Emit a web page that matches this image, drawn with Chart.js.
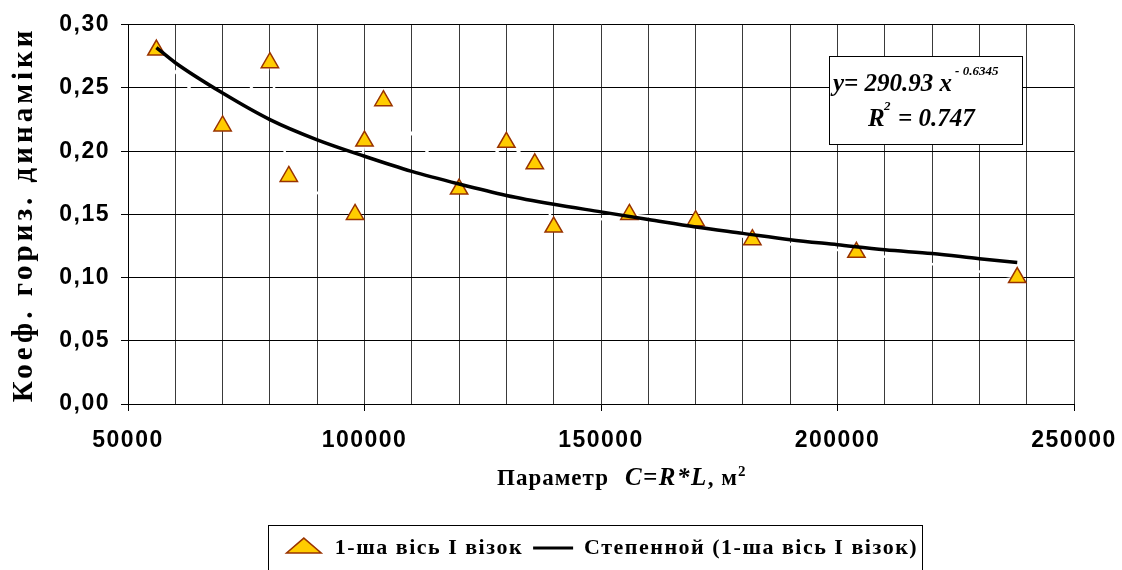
<!DOCTYPE html>
<html>
<head>
<meta charset="utf-8">
<script src="https://cdn.jsdelivr.net/npm/chart.js@4/dist/chart.umd.min.js"></script>
<style>
  html, body { margin: 0; padding: 0; background: #fff; }
  canvas { display: block; }
</style>
</head>
<body>
<canvas id="chart" width="1122" height="570"></canvas>
<script>
// measured points, C = R*L (m2) against the coefficient
var paramC = [56000, 70000, 80000, 84000, 98000, 100000, 104000, 120000, 130000, 136000, 140000, 156000, 170000, 182000, 204000, 238000];
var koef = [0.28, 0.22, 0.27, 0.18, 0.15, 0.208, 0.24, 0.17, 0.207, 0.19, 0.14, 0.15, 0.145, 0.13, 0.12, 0.10];
// power trendline
var trendC = [56000, 60000, 70000, 80000, 90000, 100000, 110000, 120000, 130000, 140000, 150000, 160000, 170000, 180000, 190000, 200000, 210000, 220000, 230000, 238000];
var trendK = [0.282, 0.270, 0.246, 0.225, 0.209, 0.196, 0.184, 0.174, 0.165, 0.158, 0.152, 0.146, 0.140, 0.135, 0.130, 0.126, 0.122, 0.119, 0.115, 0.112];
var yTicks = [0, 0.05, 0.1, 0.15, 0.2, 0.25, 0.3];
var xTickLabels = [50000, 100000, 150000, 200000, 250000];
var seriesNames = ["1-ша вісь І візок", "Степенной (1-ша вісь І візок)"];

var SANS = '"Liberation Sans", Arial, sans-serif';
var SERIF = '"Liberation Serif", "Times New Roman", serif';

function toPoints(xs, ys) {
  return xs.map(function (x, i) { return { x: x, y: ys[i] }; });
}

// titles, equation box and legend frame
var decor = {
  id: "decor",
  beforeLayout: function (chart) { chart.ctx.letterSpacing = "1.5px"; },
  beforeDraw: function (chart) { chart.ctx.letterSpacing = "1.5px"; },
  afterDraw: function (chart) {
    var ctx = chart.ctx;
    var area = chart.chartArea;
    ctx.save();
    ctx.fillStyle = "#000";
    ctx.strokeStyle = "#000";
    ctx.textBaseline = "alphabetic";

    // y title
    ctx.save();
    ctx.translate(32, (area.top + area.bottom) / 2);
    ctx.rotate(-Math.PI / 2);
    ctx.textAlign = "center";
    ctx.letterSpacing = "4px";
    ctx.font = "bold 29px " + SERIF;
    ctx.fillText("Коеф. гориз. динаміки", 0, 0);
    ctx.restore();

    // x title, mixed styles
    ctx.textAlign = "left";
    ctx.letterSpacing = "1px";
    var x = 497, base = 485;
    ctx.font = "bold 23px " + SERIF;
    ctx.fillText("Параметр", x, base);
    x += ctx.measureText("Параметр").width + 16;
    ctx.font = "italic bold 25px " + SERIF;
    ctx.letterSpacing = "1.5px";
    ctx.fillText("C=R*L", x, base);
    x += ctx.measureText("C=R*L").width;
    ctx.letterSpacing = "1px";
    ctx.font = "bold 23px " + SERIF;
    ctx.fillText(", м", x, base);
    x += ctx.measureText(", м").width;
    ctx.font = "bold 15px " + SERIF;
    ctx.fillText("2", x, base - 9);

    // equation box
    ctx.fillStyle = "#fff";
    ctx.fillRect(829.5, 56.5, 193, 88);
    ctx.lineWidth = 1;
    ctx.strokeRect(829.5, 56.5, 193, 88);
    ctx.fillStyle = "#000";
    ctx.letterSpacing = "0px";
    ctx.font = "italic bold 25px " + SERIF;
    ctx.fillText("y= 290.93 x", 833, 91);
    var w = ctx.measureText("y= 290.93 x").width;
    ctx.font = "italic bold 13px " + SERIF;
    ctx.fillText("- 0.6345", 833 + w + 3, 75);
    ctx.font = "italic bold 25px " + SERIF;
    ctx.fillText("R", 868, 126);
    ctx.font = "italic bold 13px " + SERIF;
    ctx.fillText("2", 884, 110);
    ctx.font = "italic bold 25px " + SERIF;
    ctx.fillText("= 0.747", 898, 126);

    // legend frame
    var lg = chart.legend;
    if (lg && lg.legendHitBoxes && lg.legendHitBoxes.length) {
      var hb = lg.legendHitBoxes;
      var l = hb[0].left - 16;
      var r = hb[hb.length - 1].left + hb[hb.length - 1].width + 4;
      ctx.lineWidth = 1;
      ctx.strokeRect(Math.round(l) + 0.5, lg.top - 1.5, Math.round(r - l), 80);
    }
    ctx.restore();
  }
};

var ctx = document.getElementById("chart").getContext("2d");
var chart = new Chart(ctx, {
  type: "scatter",
  data: {
    datasets: [
      {
        label: seriesNames[0],
        data: toPoints(paramC, koef),
        showLine: true,
        borderColor: "#ffffff",
        borderWidth: 2.5,
        pointStyle: "triangle",
        pointRadius: 10,
        pointHoverRadius: 10,
        pointBackgroundColor: "#FFCC00",
        pointBorderColor: "#993300",
        pointBorderWidth: 1.5,
        order: 1
      },
      {
        label: seriesNames[1],
        data: toPoints(trendC, trendK),
        showLine: true,
        borderColor: "#000000",
        borderWidth: 3.5,
        cubicInterpolationMode: "monotone",
        pointRadius: 0,
        pointHoverRadius: 0,
        pointStyle: "line",
        order: 0
      }
    ]
  },
  options: {
    responsive: false,
    animation: false,
    layout: { padding: { left: 0, right: 48, top: 24, bottom: 1 } },
    plugins: {
      tooltip: { enabled: false },
      legend: {
        position: "bottom",
        fullSize: false,
        labels: {
          usePointStyle: true,
          pointStyleWidth: 40,
          boxHeight: 14,
          padding: 10,
          color: "#000",
          font: { family: SERIF, size: 22, weight: "bold" },
          sort: function (a, b) { return a.datasetIndex - b.datasetIndex; },
          generateLabels: function (chart) {
            var items = Chart.defaults.plugins.legend.labels.generateLabels(chart);
            items.forEach(function (it) {
              if (it.datasetIndex === 0) {
                it.fillStyle = "#FFCC00";
                it.strokeStyle = "#993300";
                it.lineWidth = 1.5;
                it.pointStyle = "triangle";
              } else {
                it.strokeStyle = "#000";
                it.lineWidth = 3;
                it.pointStyle = "line";
              }
            });
            return items;
          }
        }
      }
    },
    scales: {
      x: {
        type: "linear",
        position: "bottom",
        min: 50000,
        max: 250000,
        afterFit: function (s) {
          s.height = 570 - 1 - 42 - 404;
          s.paddingLeft = 0;
          s.paddingRight = 0;
        },
        ticks: {
          stepSize: 10000,
          autoSkip: false,
          maxRotation: 0,
          padding: 16,
          color: "#000",
          font: { family: SANS, size: 23, weight: "bold" },
          callback: function (v) { return xTickLabels.indexOf(v) >= 0 ? String(v) : ""; }
        },
        grid: {
          color: "#3a3a3a",
          lineWidth: 1,
          tickLength: 7,
          tickColor: function (c) {
            return c.tick && xTickLabels.indexOf(c.tick.value) >= 0 ? "#000" : "rgba(0,0,0,0)";
          }
        },
        border: { color: "#000", width: 1 }
      },
      y: {
        min: 0,
        max: 0.3,
        afterFit: function (s) { s.width = 128; },
        afterBuildTicks: function (s) {
          s.ticks = yTicks.map(function (v) { return { value: v }; });
        },
        ticks: {
          padding: 11,
          color: "#000",
          font: { family: SANS, size: 23, weight: "bold" },
          callback: function (v) { return Number(v).toFixed(2).replace(".", ","); }
        },
        grid: { color: "#000", lineWidth: 1, tickLength: 7, tickColor: "#000" },
        border: { color: "#000", width: 1 }
      }
    }
  },
  plugins: [decor]
});
</script>
</body>
</html>
